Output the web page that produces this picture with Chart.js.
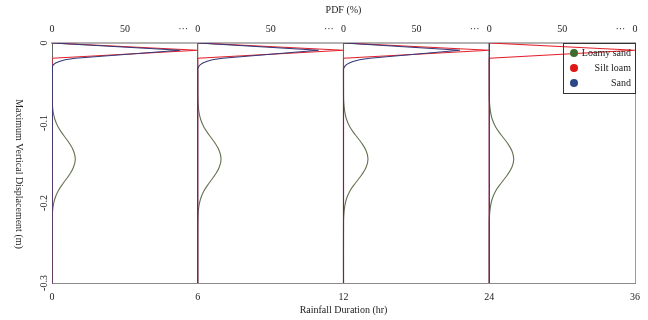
<!DOCTYPE html>
<html>
<head>
<meta charset="utf-8">
<script src="https://cdn.jsdelivr.net/npm/chart.js@4"></script>
<style>
  html, body { margin: 0; padding: 0; background: #fff; }
</style>
</head>
<body>
<canvas id="pdfChart" width="648" height="320"></canvas>
<script>
// rainfall duration labels at the panel edges (hr)
var durations = [0, 6, 12, 24, 36];
// PDF axis ticks inside each panel (%), with a break mark at the end
var pdfTickValues = [0, 50, 90];
var pdfTickLabels = ["0", "50", "\u00b7\u00b7\u00b7"];
// displacement ticks (m)
var depthTicks = [0, -0.1, -0.2, -0.3];

// Sand: displacement (m) and PDF (%) per panel
var sandDepth = [0, -0.009, -0.019, -0.021, -0.023, -0.025, -0.027, -0.029, -0.032, -0.3];
var sandPdf = [
  [0, 88, 16, 9, 5, 2.5, 1, 0.3, 0, 0],
  [0, 83, 17, 10, 6, 3.5, 1.8, 0.8, 0, 0],
  [0, 80, 18, 11, 6.5, 4, 2, 1, 0, 0],
  [0, 0, 0, 0, 0, 0, 0, 0, 0, 0]
];

// Silt loam
var siltDepth = [0, -0.009, -0.019, -0.3];
var siltPdf = [
  [0, 100, 0, 0],
  [0, 100, 0, 0],
  [0, 100, 0, 0],
  [0, 100, 0, 0]
];

// Loamy sand
var loamyDepth = [0, -0.065, -0.075, -0.085, -0.095, -0.105, -0.115, -0.125, -0.135, -0.145,
                  -0.155, -0.165, -0.175, -0.185, -0.195, -0.205, -0.215, -0.225, -0.3];
var loamyPdf = [
  [0, 0, 0.2, 0.7, 1.9, 4.2, 7.8, 11.8, 14.8, 16, 14.8, 11.8, 7.8, 4.2, 1.9, 0.7, 0.2, 0, 0],
  [0, 0, 0.2, 0.7, 1.9, 4.2, 7.8, 11.8, 14.8, 16, 14.8, 11.8, 7.8, 4.2, 1.9, 0.7, 0.2, 0, 0],
  [0, 0, 0.2, 0.8, 2, 4.4, 8.2, 12.4, 15.6, 16.8, 15.6, 12.4, 8.2, 4.4, 2, 0.8, 0.2, 0, 0],
  [0, 0, 0.2, 0.8, 2, 4.4, 8.2, 12.4, 15.6, 16.8, 15.6, 12.4, 8.2, 4.4, 2, 0.8, 0.2, 0, 0]
];

var soils = [
  { name: "Loamy sand", depth: loamyDepth, pdf: loamyPdf, line: "#63724f", dot: "#3f6b2c", tension: 0.4, order: 3 },
  { name: "Silt loam", depth: siltDepth, pdf: siltPdf, line: "#e3202a", dot: "#e01515", tension: 0, order: 2 },
  { name: "Sand", depth: sandDepth, pdf: sandPdf, line: "#363a78", dot: "#2c4688", tension: 0, order: 1 }
];

var serif = { family: "'Liberation Serif', 'Times New Roman', serif", size: 10 };
var textColor = "#222";

// one dataset per soil and panel; each panel spans 1 x-unit = 100 % PDF
var datasets = [];
soils.forEach(function (soil) {
  soil.pdf.forEach(function (values, panel) {
    datasets.push({
      label: soil.name,
      data: values.map(function (v, i) {
        return { x: panel + v / 100, y: soil.depth[i] };
      }),
      borderColor: soil.line,
      borderWidth: 1.1,
      pointRadius: 0,
      showLine: true,
      fill: false,
      tension: soil.tension,
      order: soil.order,
      xAxisID: "x",
      yAxisID: "y"
    });
  });
});

// top axis tick positions
var topTicks = [];
var topLabels = [];
for (var p = 0; p < 4; p++) {
  pdfTickValues.forEach(function (v, i) {
    topTicks.push(p + v / 100);
    topLabels.push(pdfTickLabels[i]);
  });
}
topTicks.push(4);
topLabels.push("0");

var extras = {
  id: "extras",
  afterDraw: function (chart) {
    var ctx = chart.ctx;
    var area = chart.chartArea;
    ctx.save();
    // y title, reading downwards
    ctx.font = serif.size + "px " + serif.family;
    ctx.fillStyle = textColor;
    ctx.translate(19, 174);
    ctx.rotate(Math.PI / 2);
    ctx.textAlign = "center";
    ctx.textBaseline = "middle";
    ctx.fillText("Maximum Vertical Displacement (m)", 0, 0);
    ctx.restore();

    // legend box
    ctx.save();
    var bw = 72, bh = 50;
    var bx = area.right - bw, by = area.top;
    ctx.strokeStyle = "#333";
    ctx.lineWidth = 1;
    ctx.strokeRect(bx + 0.5, by + 0.5, bw, bh);
    ctx.font = serif.size + "px " + serif.family;
    ctx.textAlign = "right";
    ctx.textBaseline = "middle";
    soils.forEach(function (soil, i) {
      var cy = by + 10 + i * 15;
      ctx.beginPath();
      ctx.fillStyle = soil.dot;
      ctx.arc(bx + 11, cy, 4, 0, Math.PI * 2);
      ctx.fill();
      ctx.fillStyle = textColor;
      ctx.fillText(soil.name, bx + bw - 4, cy);
    });
    ctx.restore();
  }
};

var ctx = document.getElementById("pdfChart").getContext("2d");
var chart = new Chart(ctx, {
  type: "scatter",
  data: { datasets: datasets },
  options: {
    responsive: false,
    animation: false,
    layout: { padding: { left: 0, right: 11, top: 0, bottom: 0 } },
    plugins: {
      legend: { display: false },
      tooltip: { enabled: false }
    },
    scales: {
      x: {
        type: "linear",
        position: "bottom",
        min: 0,
        max: 4,
        afterBuildTicks: function (scale) {
          scale.ticks = durations.map(function (d, i) { return { value: i }; });
        },
        ticks: {
          autoSkip: false,
          maxRotation: 0,
          padding: 8,
          font: serif,
          color: textColor,
          callback: function (value, index) { return String(durations[index]); }
        },
        grid: {
          drawTicks: false,
          lineWidth: 1,
          color: function (c) { return c.index === 4 ? "#9a9a9a" : "#5a5e88"; }
        },
        border: { color: "#8a8a8a", width: 1 },
        title: {
          display: true,
          text: "Rainfall Duration (hr)",
          font: serif,
          color: textColor,
          padding: { top: 2, bottom: 4 }
        },
        afterFit: function (scale) { scale.height = 37; }
      },
      x2: {
        type: "linear",
        position: "top",
        min: 0,
        max: 4,
        afterBuildTicks: function (scale) {
          scale.ticks = topTicks.map(function (v) { return { value: v }; });
        },
        ticks: {
          autoSkip: false,
          maxRotation: 0,
          padding: 8,
          font: serif,
          color: textColor,
          callback: function (value, index) { return topLabels[index]; }
        },
        grid: { display: false, drawTicks: false },
        border: { color: "#b3b3b3", width: 2 },
        title: {
          display: true,
          text: "PDF (%)",
          font: serif,
          color: textColor,
          padding: { top: 4, bottom: 4 }
        },
        afterFit: function (scale) { scale.height = 43; }
      },
      y: {
        type: "linear",
        min: -0.3,
        max: 0,
        afterBuildTicks: function (scale) {
          scale.ticks = depthTicks.map(function (v) { return { value: v }; });
        },
        ticks: {
          minRotation: 90,
          maxRotation: 90,
          crossAlign: "center",
          padding: 0,
          font: serif,
          color: textColor,
          callback: function (value) { return value === 0 ? "0" : value.toFixed(1); }
        },
        grid: { display: false, drawTicks: false },
        border: { color: "#5a5e88", width: 1 },
        afterFit: function (scale) { scale.width = 52; }
      }
    }
  },
  plugins: [extras]
});
</script>
</body>
</html>
